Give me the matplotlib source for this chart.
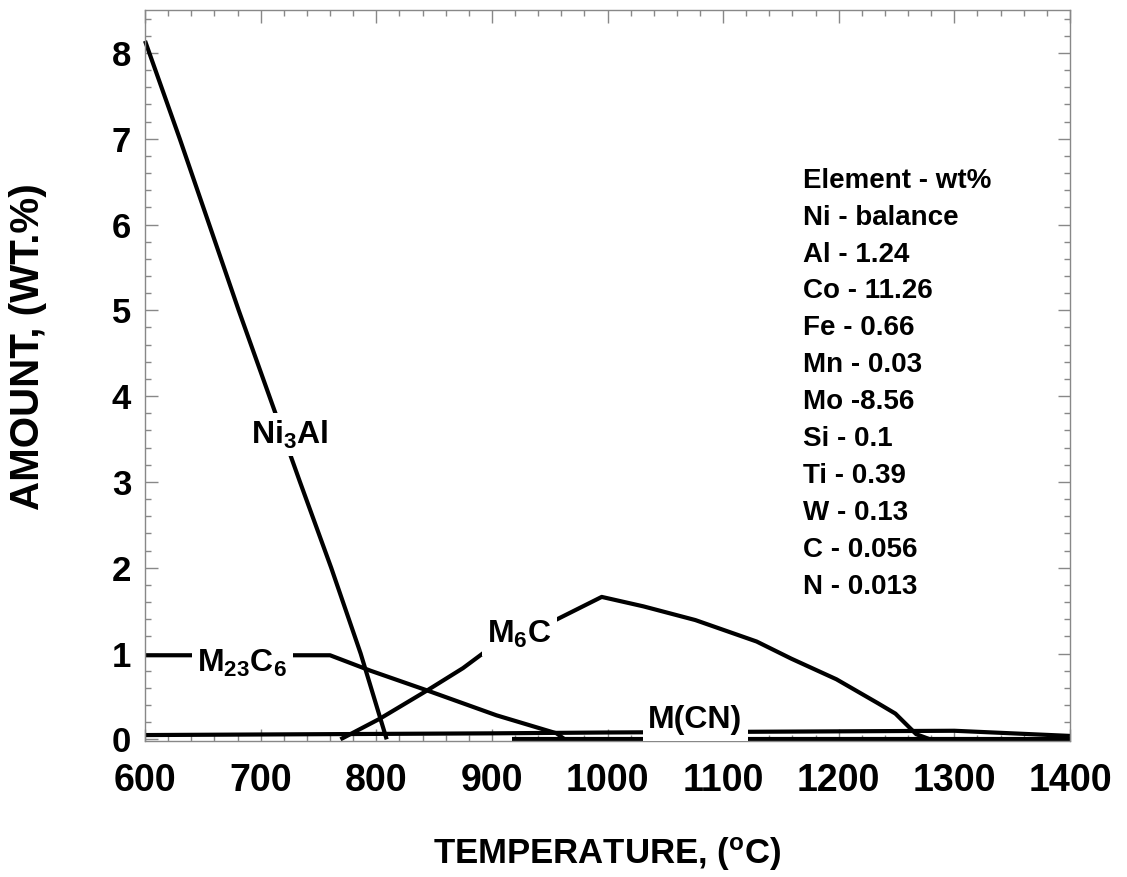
import numpy as np
import matplotlib
matplotlib.use('Agg')
import matplotlib.pyplot as plt
from matplotlib.ticker import MultipleLocator

plt.rcParams['font.family'] = ['Liberation Sans', 'DejaVu Sans']
plt.rcParams['font.weight'] = 'bold'
plt.rcParams['axes.labelweight'] = 'bold'
plt.rcParams['mathtext.fontset'] = 'custom'
plt.rcParams['mathtext.bf'] = 'Liberation Sans:bold'
plt.rcParams['mathtext.rm'] = 'Liberation Sans:bold'

# phase amounts (temperature in C, amount in wt.%)
ni3al_t = [600, 630, 655.5, 681, 707.5, 734, 761, 786.5, 809]
ni3al_amt = [8.14, 7.0, 6.0, 5.0, 4.0, 3.0, 2.0, 1.0, 0.0]

m23c6_t = [600, 760, 795, 844, 904, 956, 963]
m23c6_amt = [0.98, 0.98, 0.80, 0.57, 0.28, 0.07, 0.0]

m6c_t = [769, 803, 844, 875, 894, 924, 955, 995, 1031, 1076, 1129, 1159,
         1198, 1234, 1249, 1267, 1279]
m6c_amt = [0.0, 0.24, 0.57, 0.83, 1.02, 1.22, 1.39, 1.66, 1.55, 1.39, 1.14, 0.94,
           0.70, 0.42, 0.30, 0.06, 0.0]

mcn_t = [600, 900, 1000, 1300, 1400]
mcn_amt = [0.05, 0.07, 0.08, 0.10, 0.04]

low_t = [917, 1400]
low_amt = [0.0, 0.0]

composition = ['Element - wt%', 'Ni - balance', 'Al - 1.24', 'Co - 11.26',
               'Fe - 0.66', 'Mn - 0.03', 'Mo -8.56', 'Si - 0.1', 'Ti - 0.39',
               'W - 0.13', 'C - 0.056', 'N - 0.013']

fig = plt.figure(figsize=(11.27, 8.77), dpi=100)
ax = fig.add_axes([0.1287, 0.155, 0.8207, 0.8336])

lw = 3.0
for t, a in [(ni3al_t, ni3al_amt), (m23c6_t, m23c6_amt), (m6c_t, m6c_amt),
             (mcn_t, mcn_amt), (low_t, low_amt)]:
    ax.plot(t, a, color='black', lw=lw, solid_capstyle='butt', clip_on=False, zorder=2)

ax.set_xlim(600, 1400)
ax.set_ylim(-0.02, 8.5)

# curve labels, white box hides the line under the text
box = dict(facecolor='white', edgecolor='none', pad=4)
lab = dict(fontsize=23, ha='center', va='center', bbox=box, zorder=3)
ax.text(725, 3.55, r'$\mathbf{Ni_3Al}$', **lab)
ax.text(684, 0.88, r'$\mathbf{M_{23}C_6}$', **lab)
ax.text(924, 1.22, r'$\mathbf{M_6C}$', **lab)
ax.text(1076, 0.22, 'M(CN)', **lab)

y0 = 6.51
for i, s in enumerate(composition):
    ax.text(1169, y0 - i * 0.43, s, fontsize=20, ha='left', va='center')

ax.xaxis.set_major_locator(MultipleLocator(100))
ax.xaxis.set_minor_locator(MultipleLocator(20))
ax.yaxis.set_major_locator(MultipleLocator(1))
ax.yaxis.set_minor_locator(MultipleLocator(0.2))
ax.tick_params(which='both', direction='in', top=True, right=True,
               color='#888888', width=1)
ax.tick_params(which='major', length=9)
ax.tick_params(which='minor', length=4.5)
ax.tick_params(axis='x', which='major', labelsize=27, pad=16)
ax.tick_params(axis='y', which='major', labelsize=25, pad=10)
for sp in ax.spines.values():
    sp.set_color('#888888')
    sp.set_linewidth(1)

ax.set_xlabel(r'TEMPERATURE, ($\mathbf{^oC}$)', fontsize=25, labelpad=26)
ax.set_ylabel('AMOUNT, (WT.%)', fontsize=29)
ax.yaxis.set_label_coords(-0.106, 0.54)

fig.savefig('out.png', dpi=100)
